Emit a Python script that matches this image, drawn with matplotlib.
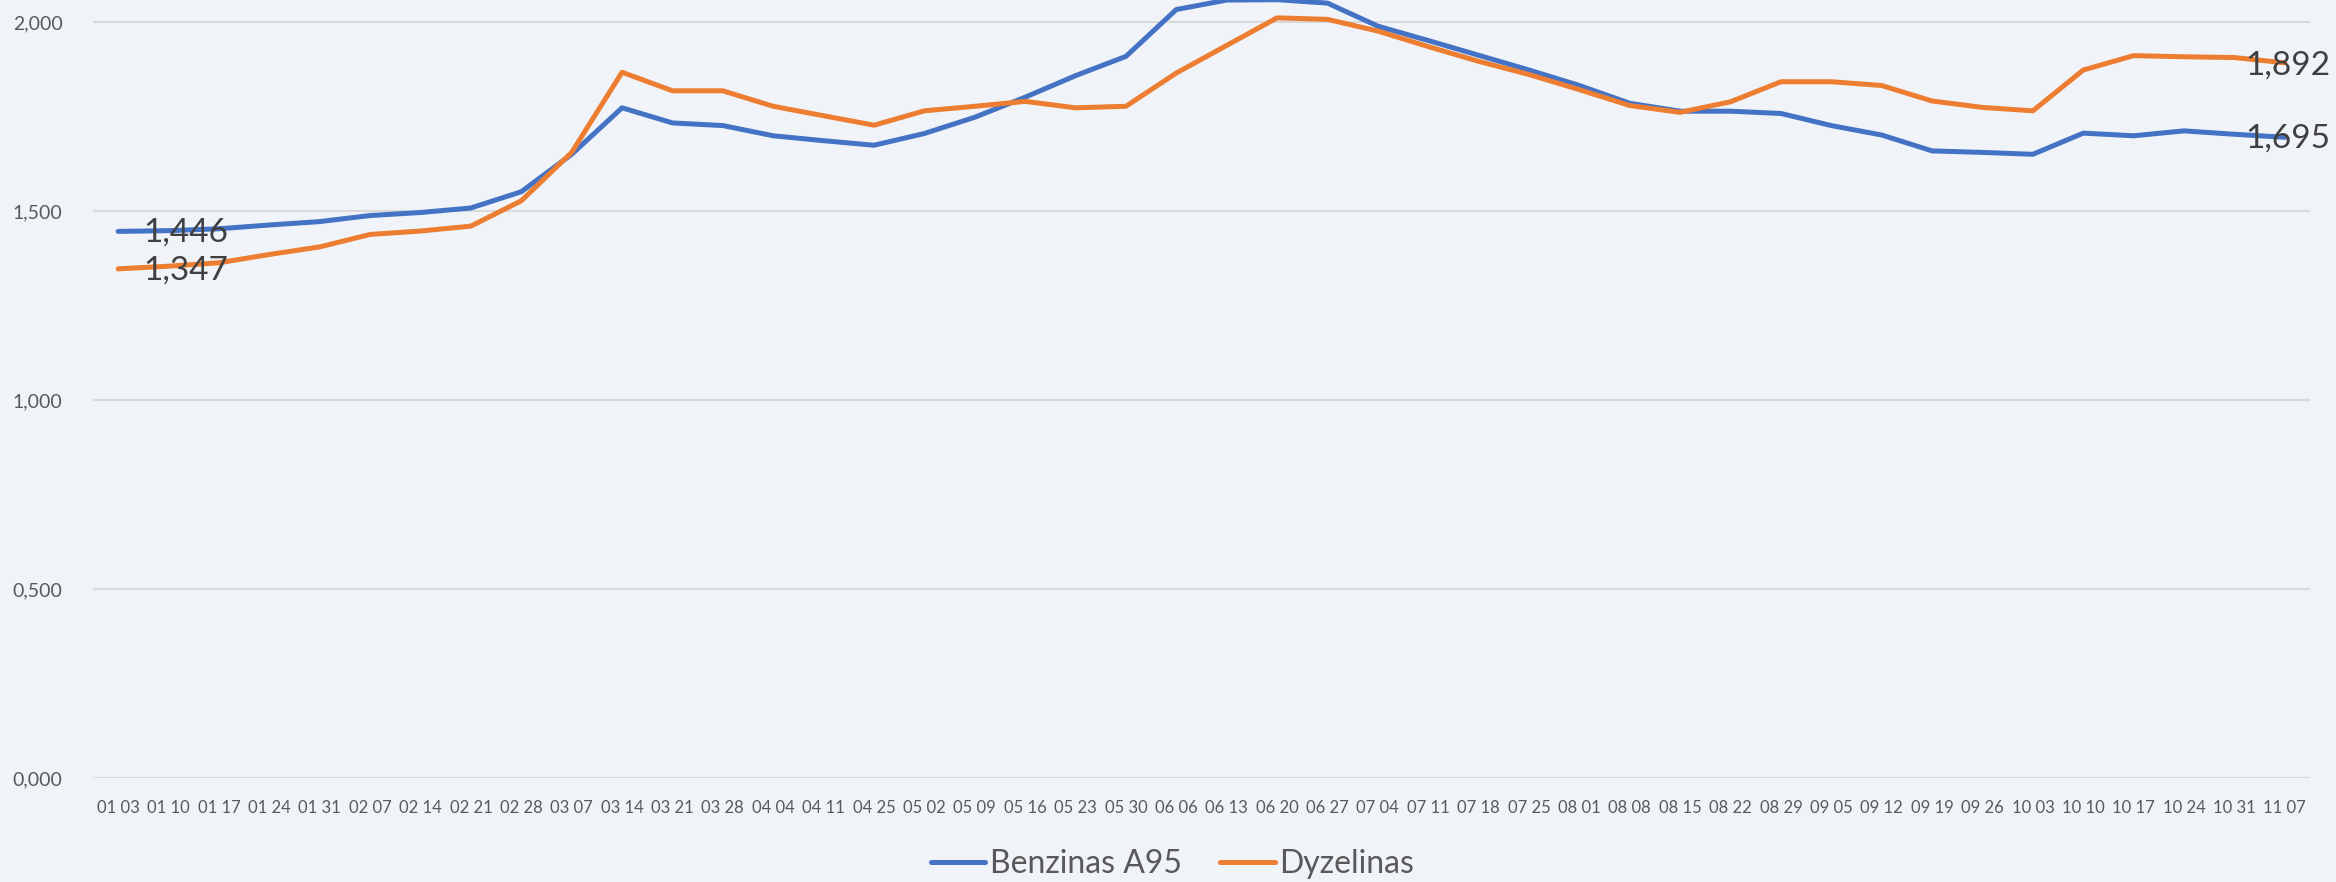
import matplotlib
matplotlib.use("Agg")
import matplotlib.pyplot as plt
from matplotlib.ticker import FuncFormatter, FixedLocator

plt.rcParams['font.family'] = ['Lato', 'DejaVu Sans']

dates = ["01 03", "01 10", "01 17", "01 24", "01 31", "02 07", "02 14", "02 21", "02 28",
         "03 07", "03 14", "03 21", "03 28", "04 04", "04 11", "04 25", "05 02", "05 09",
         "05 16", "05 23", "05 30", "06 06", "06 13", "06 20", "06 27", "07 04", "07 11",
         "07 18", "07 25", "08 01", "08 08", "08 15", "08 22", "08 29", "09 05", "09 12",
         "09 19", "09 26", "10 03", "10 10", "10 17", "10 24", "10 31", "11 07"]

benzinas_a95 = [1.446, 1.448, 1.453, 1.463, 1.472, 1.488, 1.496, 1.508, 1.551,
                1.650, 1.773, 1.733, 1.726, 1.699, 1.686, 1.674, 1.705, 1.748,
                1.801, 1.858, 1.909, 2.033, 2.058, 2.059, 2.050, 1.989, 1.951,
                1.912, 1.873, 1.832, 1.785, 1.764, 1.764, 1.758, 1.726, 1.701,
                1.659, 1.655, 1.650, 1.706, 1.699, 1.712, 1.703, 1.695]

dyzelinas = [1.347, 1.354, 1.363, 1.385, 1.405, 1.438, 1.447, 1.460, 1.527,
             1.655, 1.867, 1.818, 1.818, 1.777, 1.752, 1.727, 1.765, 1.777,
             1.790, 1.773, 1.777, 1.865, 1.938, 2.011, 2.007, 1.976, 1.935,
             1.896, 1.861, 1.821, 1.779, 1.761, 1.789, 1.842, 1.842, 1.832,
             1.791, 1.774, 1.765, 1.873, 1.911, 1.908, 1.906, 1.892]

series_names = ["Benzinas A95", "Dyzelinas"]
y_ticks = [0.0, 0.5, 1.0, 1.5, 2.0]

BG = "#F0F4F8"
BLUE = "#4472C4"
ORANGE = "#ED7D31"

W, H = 2336, 882
fig = plt.figure(figsize=(W / 100, H / 100), dpi=100, facecolor=BG)
ax = fig.add_axes([93 / W, 1 - 778 / H, (2310 - 93) / W, 778 / H])
ax.set_facecolor(BG)

x = list(range(len(dates)))
for vals, col, name in [(benzinas_a95, BLUE, series_names[0]), (dyzelinas, ORANGE, series_names[1])]:
    ax.plot(x, vals, color=col, lw=3.6, solid_capstyle='round', solid_joinstyle='round',
            label=name, clip_on=False, zorder=3)

ax.set_xlim(-0.5, len(dates) - 0.5)
ax.set_ylim(0, 2.0 + 22 / 378)

ax.yaxis.set_major_locator(FixedLocator(y_ticks))
ax.yaxis.set_major_formatter(FuncFormatter(lambda v, p: f"{v:.3f}".replace('.', ',')))
ax.set_xticks(x)
ax.set_xticklabels(dates)

ax.grid(axis='y', color='#D9D9D9', lw=1.5, zorder=0)
ax.grid(axis='x', visible=False)
for s in ax.spines.values():
    s.set_visible(False)
ax.tick_params(axis='both', length=0, colors='#595959')
ax.tick_params(axis='y', labelsize=14, pad=22)
ax.tick_params(axis='x', labelsize=12, pad=16)

# data labels at first and last point
lab_kw = dict(fontsize=24, color='#404040', va='center', textcoords='offset points', zorder=4)
ax.annotate(f"{benzinas_a95[0]:.3f}".replace('.', ','), (x[0], benzinas_a95[0]),
            xytext=(18, -1), ha='left', **lab_kw)
ax.annotate(f"{dyzelinas[0]:.3f}".replace('.', ','), (x[0], dyzelinas[0]),
            xytext=(18, -1), ha='left', **lab_kw)
ax.annotate(f"{benzinas_a95[-1]:.3f}".replace('.', ','), (x[-1], benzinas_a95[-1]),
            xytext=(33, -1), ha='right', **lab_kw)
ax.annotate(f"{dyzelinas[-1]:.3f}".replace('.', ','), (x[-1], dyzelinas[-1]),
            xytext=(33, -2), ha='right', **lab_kw)

leg = fig.legend(loc='center', bbox_to_anchor=(0.502, 1 - 864 / H), ncol=2, frameon=False,
                 fontsize=23, handlelength=1.7, handletextpad=0.15, columnspacing=1.2,
                 labelcolor='#595959')
for h in leg.get_lines():
    h.set_linewidth(3.6)

fig.savefig("out.png", dpi=100, facecolor=BG)
